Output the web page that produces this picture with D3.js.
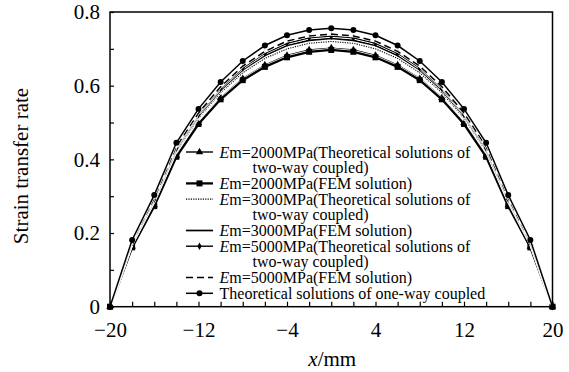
<!DOCTYPE html>
<html>
<head>
<meta charset="utf-8">
<script src="https://cdn.jsdelivr.net/npm/d3@7"></script>
<style>
  body { margin: 0; background: #fff; }
  svg { display: block; font-family: "Liberation Serif", "Times New Roman", serif; }
</style>
</head>
<body>
<div id="chart"></div>
<script>
// positions along the fibre, mm
var xs = [-20, -18, -16, -14, -12, -10, -8, -6, -4, -2, 0, 2, 4, 6, 8, 10, 12, 14, 16, 18, 20];

var em2000_theory = [0, 0.163, 0.276, 0.410, 0.499, 0.567, 0.619, 0.656, 0.682, 0.697, 0.702, 0.697, 0.682, 0.656, 0.619, 0.567, 0.499, 0.410, 0.276, 0.163, 0];
var em2000_fem    = [0, 0.161, 0.273, 0.407, 0.496, 0.563, 0.615, 0.651, 0.677, 0.692, 0.697, 0.692, 0.677, 0.651, 0.615, 0.563, 0.496, 0.407, 0.273, 0.161, 0];
var em3000_theory = [0, 0.169, 0.285, 0.422, 0.512, 0.581, 0.635, 0.674, 0.700, 0.715, 0.720, 0.715, 0.700, 0.674, 0.635, 0.581, 0.512, 0.422, 0.285, 0.169, 0];
var em3000_fem    = [0, 0.172, 0.289, 0.427, 0.518, 0.588, 0.643, 0.682, 0.709, 0.723, 0.728, 0.723, 0.709, 0.682, 0.643, 0.588, 0.518, 0.427, 0.289, 0.172, 0];
var em5000_theory = [0, 0.174, 0.292, 0.431, 0.522, 0.593, 0.648, 0.688, 0.715, 0.730, 0.735, 0.730, 0.715, 0.688, 0.648, 0.593, 0.522, 0.431, 0.292, 0.174, 0];
var em5000_fem    = [0, 0.176, 0.295, 0.435, 0.526, 0.597, 0.653, 0.693, 0.721, 0.735, 0.740, 0.735, 0.721, 0.693, 0.653, 0.597, 0.526, 0.435, 0.295, 0.176, 0];
var one_way       = [0, 0.181, 0.303, 0.445, 0.537, 0.610, 0.667, 0.709, 0.737, 0.751, 0.756, 0.751, 0.737, 0.709, 0.667, 0.610, 0.537, 0.445, 0.303, 0.181, 0];

var x_labels = [-20, -12, -4, 4, 12, 20];
var y_labels = [0, 0.2, 0.4, 0.6, 0.8];

var series = [
    {name: ["m=2000MPa(Theoretical solutions of", "two-way coupled)"], values: em2000_theory, marker: d3.symbolTriangle, size: 24, width: 1.4, dash: null},
    {name: ["m=2000MPa(FEM solution)"], values: em2000_fem, marker: d3.symbolSquare, size: 36, width: 2.3, dash: null},
    {name: ["m=3000MPa(Theoretical solutions of", "two-way coupled)"], values: em3000_theory, marker: null, width: 1.1, dash: "1.2,1.2"},
    {name: ["m=3000MPa(FEM solution)"], values: em3000_fem, marker: null, width: 1.7, dash: null},
    {name: ["m=5000MPa(Theoretical solutions of", "two-way coupled)"], values: em5000_theory, marker: d3.symbolDiamond, size: 16, width: 1.4, dash: null},
    {name: ["m=5000MPa(FEM solution)"], values: em5000_fem, marker: null, width: 1.5, dash: "7,4"},
    {name: ["Theoretical solutions of one-way coupled"], values: one_way, marker: d3.symbolCircle, size: 28, width: 1.5, dash: null, plain: true}
];

var chart_width = 569, chart_height = 372;
var plot_left = 110, plot_right = 552.5, plot_top = 12, plot_bottom = 306.7;

var svg = d3.select("#chart").append("svg")
    .attr("width", chart_width)
    .attr("height", chart_height);

var x = d3.scaleLinear().domain([-20, 20]).range([plot_left, plot_right]);
var y = d3.scaleLinear().domain([0, 0.8]).range([plot_bottom, plot_top]);

// curves
var line = d3.line()
    .x(function(d, i) { return x(xs[i]); })
    .y(function(d) { return y(d); });

var curves = svg.append("g");
series.forEach(function(s) {
    curves.append("path")
        .attr("d", line(s.values))
        .attr("fill", "none")
        .attr("stroke", "#fff")
        .attr("stroke-width", s.width + 1.4);
    curves.append("path")
        .attr("d", line(s.values))
        .attr("fill", "none")
        .attr("stroke", "#000")
        .attr("stroke-width", s.width)
        .attr("stroke-dasharray", s.dash);
    if (s.marker) {
        curves.append("g")
            .selectAll("path")
            .data(s.values)
            .enter().append("path")
                .attr("transform", function(d, i) { return "translate(" + x(xs[i]) + "," + y(d) + ")"; })
                .attr("d", d3.symbol().type(s.marker).size(s.size))
                .attr("fill", "#000");
    }
});

// axes
var xAxis = svg.append("g")
    .attr("transform", "translate(0," + plot_bottom + ")")
    .call(d3.axisBottom(x)
        .tickValues(d3.range(-20, 21, 2))
        .tickSize(-5)
        .tickPadding(15)
        .tickFormat(function(d) { return x_labels.indexOf(d) >= 0 ? d3.format("")(d) : ""; }));

var yAxis = svg.append("g")
    .attr("transform", "translate(" + plot_left + ",0)")
    .call(d3.axisLeft(y)
        .tickValues(d3.range(0, 0.81, 0.1))
        .tickSize(-4)
        .tickPadding(10)
        .tickFormat(function(d) {
            var v = Math.round(d * 10) / 10;
            if (y_labels.indexOf(v) < 0) return "";
            return v === 0 ? "0" : v.toFixed(1);
        }));

[xAxis, yAxis].forEach(function(a) {
    a.select(".domain").remove();
    a.selectAll("line").attr("stroke", "#000").attr("stroke-width", 1.2);
    a.selectAll("text")
        .attr("fill", "#000")
        .style("font-family", "Liberation Serif")
        .style("font-size", "21px");
});

svg.append("rect")
    .attr("x", plot_left)
    .attr("y", plot_top)
    .attr("width", plot_right - plot_left)
    .attr("height", plot_bottom - plot_top)
    .attr("fill", "none")
    .attr("stroke", "#000")
    .attr("stroke-width", 1.5);

// axis titles
svg.append("text")
    .attr("transform", "translate(28,166) rotate(-90)")
    .attr("text-anchor", "middle")
    .style("font-size", "21px")
    .text("Strain transfer rate");

var xt = svg.append("text")
    .attr("x", (plot_left + plot_right) / 2 + 1)
    .attr("y", 366)
    .attr("text-anchor", "middle")
    .style("font-size", "21px");
xt.append("tspan").style("font-style", "italic").text("x");
xt.append("tspan").text("/mm");

// legend
var legend = svg.append("g");
var row = 0;
var row_step = 15.7, row_top = 152;
series.forEach(function(s) {
    var cy = row_top + row * row_step;
    legend.append("line")
        .attr("x1", 186).attr("x2", 213)
        .attr("y1", cy).attr("y2", cy)
        .attr("stroke", "#000")
        .attr("stroke-width", s.width)
        .attr("stroke-dasharray", s.dash);
    if (s.marker) {
        legend.append("path")
            .attr("transform", "translate(199.5," + cy + ")")
            .attr("d", d3.symbol().type(s.marker).size(s.size))
            .attr("fill", "#000");
    }
    s.name.forEach(function(t, k) {
        var tx = legend.append("text")
            .attr("x", k === 0 ? 219.5 : 252.5)
            .attr("y", cy + k * row_step + 5.5)
            .style("font-size", "16px");
        if (k === 0 && !s.plain) {
            tx.append("tspan").style("font-style", "italic").text("E");
        }
        tx.append("tspan").text(t);
    });
    row += s.name.length;
});
</script>
</body>
</html>
